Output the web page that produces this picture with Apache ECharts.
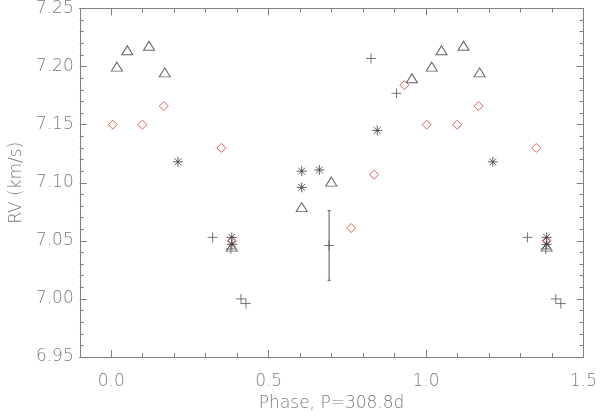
<!DOCTYPE html>
<html>
<head>
<meta charset="utf-8">
<script src="https://cdn.jsdelivr.net/npm/echarts@6/dist/echarts.min.js"></script>
<style>html,body{margin:0;padding:0;background:#fff}#c{width:600px;height:417px}</style>
</head>
<body>
<div id="c"></div>
<script>
// ---- data ----
var triPhase = [0.018, 0.051, 0.120, 0.170, 0.383, 0.605, 0.699, 0.955, 1.018, 1.049, 1.119, 1.170, 1.383];
var triRV    = [7.200, 7.214, 7.218, 7.195, 7.045, 7.079, 7.101, 7.190, 7.200, 7.214, 7.218, 7.195, 7.045];

var diaPhase = [0.005, 0.099, 0.167, 0.350, 0.383, 0.762, 0.835, 0.931, 1.002, 1.099, 1.167, 1.350, 1.383];
var diaRV    = [7.150, 7.150, 7.166, 7.130, 7.050, 7.061, 7.107, 7.184, 7.150, 7.150, 7.166, 7.130, 7.050];

var astPhase = [0.212, 0.383, 0.383, 0.605, 0.605, 0.661, 0.845, 1.212, 1.383, 1.383];
var astRV    = [7.118, 7.053, 7.047, 7.110, 7.096, 7.111, 7.145, 7.118, 7.053, 7.047];

var plusPhase = [0.322, 0.380, 0.412, 0.428, 0.692, 0.825, 0.906, 1.322, 1.380, 1.412, 1.428];
var plusRV    = [7.053, 7.043, 7.000, 6.996, 7.046, 7.207, 7.177, 7.053, 7.043, 7.000, 6.996];

var errPhase = [0.692];
var errLow   = [7.016];
var errHigh  = [7.076];

var xMajorTicks = [0.0, 0.5, 1.0, 1.5];
var xMinorTicks = [0.1, 0.2, 0.3, 0.4, 0.6, 0.7, 0.8, 0.9, 1.1, 1.2, 1.3, 1.4];
var xLabel = 'Phase, P=308.8d';
var yLabel = 'RV (km/s)';

function zip(a, b) { return a.map(function (v, i) { return [v, b[i]]; }); }

var AX = '#808080', TXT = '#7a7a7a', INK = '#3a3a3a', RED = '#e0393a';
var FONT = 'DejaVu Sans';
var FS = 17;

function xAx(pos, ticks, len, opts) {
  var o = {
    type: 'value', position: pos, min: -0.1, max: 1.5,
    axisLine: { show: true, onZero: false, lineStyle: { color: AX, width: 1 } },
    axisTick: { show: true, inside: true, length: len, customValues: ticks, lineStyle: { color: AX } },
    axisLabel: { show: false },
    splitLine: { show: false }
  };
  for (var k in opts) o[k] = opts[k];
  return o;
}
function yAx(pos, showLabels) {
  return {
    type: 'value', position: pos, min: 6.95, max: 7.25, interval: 0.05,
    axisLine: { show: true, onZero: false, lineStyle: { color: AX, width: 1 } },
    axisTick: { show: true, inside: true, length: 7, lineStyle: { color: AX } },
    minorTick: { show: true, splitNumber: 5, length: 4, lineStyle: { color: AX } },
    axisLabel: { show: showLabels, margin: 6, color: TXT, fontFamily: FONT, fontSize: FS, fontWeight: 200,
      formatter: function (v) { return v.toFixed(2); } },
    splitLine: { show: false },
    name: showLabels ? yLabel : '', nameLocation: 'middle', nameRotate: 90, nameGap: 52,
    nameTextStyle: { color: TXT, fontFamily: FONT, fontSize: FS, fontWeight: 200 }
  };
}

var ASTER = 'path://M5,0L5,10M0,5L10,5M1.6,1.6L8.4,8.4M8.4,1.6L1.6,8.4';
var PLUS = 'path://M5,0L5,10M0,5L10,5';

var chart = echarts.init(document.getElementById('c'), null, { renderer: 'canvas' });
chart.setOption({
  backgroundColor: '#fff',
  animation: false,
  grid: { left: 77, right: 14, top: 4, bottom: 51, containLabel: false },
  xAxis: [
    xAx('bottom', xMajorTicks, 7, {
      axisLabel: { show: true, customValues: xMajorTicks, margin: 16, color: TXT, fontFamily: FONT, fontSize: FS, fontWeight: 200,
        formatter: function (v) { return v.toFixed(1); } },
      name: xLabel, nameLocation: 'middle', nameGap: 38,
      nameTextStyle: { color: TXT, fontFamily: FONT, fontSize: FS, fontWeight: 200 }
    }),
    xAx('bottom', xMinorTicks, 4, {}),
    xAx('top', xMajorTicks, 7, {}),
    xAx('top', xMinorTicks, 4, {})
  ],
  yAxis: [yAx('left', true), yAx('right', false)],
  series: [
    {
      type: 'custom', xAxisIndex: 0, yAxisIndex: 0,
      data: errPhase.map(function (p, i) { return [p, errLow[i], errHigh[i]]; }),
      renderItem: function (params, api) {
        var lo = api.coord([api.value(0), api.value(1)]);
        var hi = api.coord([api.value(0), api.value(2)]);
        var st = { stroke: '#555', lineWidth: 1 };
        return { type: 'group', children: [
          { type: 'line', shape: { x1: lo[0], y1: lo[1], x2: hi[0], y2: hi[1] }, style: st },
          { type: 'line', shape: { x1: lo[0] - 1.5, y1: lo[1], x2: lo[0] + 1.5, y2: lo[1] }, style: st },
          { type: 'line', shape: { x1: hi[0] - 1.5, y1: hi[1], x2: hi[0] + 1.5, y2: hi[1] }, style: st }
        ] };
      }
    },
    {
      type: 'scatter', data: zip(triPhase, triRV), symbol: 'triangle', symbolSize: [11, 9],
      itemStyle: { color: 'rgba(0,0,0,0)', borderColor: INK, borderWidth: 1 }
    },
    {
      type: 'scatter', data: zip(diaPhase, diaRV), symbol: 'diamond', symbolSize: [9, 9],
      itemStyle: { color: 'rgba(0,0,0,0)', borderColor: RED, borderWidth: 1 }
    },
    {
      type: 'scatter', data: zip(astPhase, astRV), symbol: ASTER, symbolSize: 10,
      itemStyle: { color: 'rgba(0,0,0,0)', borderColor: INK, borderWidth: 1 }
    },
    {
      type: 'scatter', data: zip(plusPhase, plusRV), symbol: PLUS, symbolSize: 10,
      itemStyle: { color: 'rgba(0,0,0,0)', borderColor: '#555', borderWidth: 1 }
    }
  ]
});
</script>
</body>
</html>
